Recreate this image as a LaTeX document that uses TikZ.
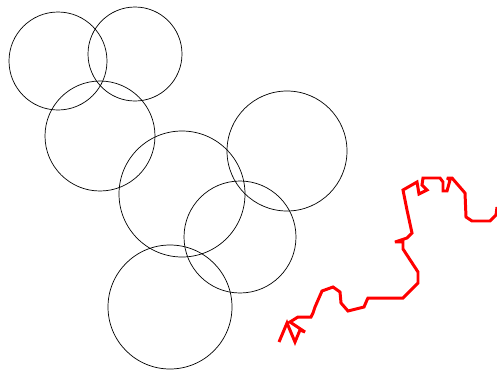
\documentclass[tikz,border=0pt]{standalone}
\usepackage{tikz}

\begin{document}
\begin{tikzpicture}[x=0.02cm,y=0.02cm]
        \useasboundingbox (0,0) rectangle (497,370);
        \coordinate (c1) at (58,309);
        \coordinate (c2) at (135,316);
        \coordinate (c3) at (100,234);
        \coordinate (c4) at (182,176);
        \coordinate (c5) at (287,219);
        \coordinate (c6) at (240,133);
        \coordinate (c7) at (170,63);
        \draw[thin] (c1) circle (49);
        \draw[thin] (c2) circle (47);
        \draw[thin] (c3) circle (55);
        \draw[thin] (c4) circle (63);
        \draw[thin] (c5) circle (60);
        \draw[thin] (c6) circle (56);
        \draw[thin] (c7) circle (62);
        \draw[red,line width=1.7pt,miter limit=3] (279,28) -- (287,47) -- (295,28) -- (300,40)
            -- (305,38) -- (290,48) -- (298,53) -- (311,53) -- (313,57) -- (315,63)
            -- (322,79) -- (333,83) -- (340,78) -- (341,67) -- (348,59) -- (364,63)
            -- (367,70) -- (368,72) -- (403,72) -- (418,87) -- (418,98) -- (403,121)
            -- (403,128) -- (395,128) -- (407,132) -- (412,137) -- (407,160)
            -- (403,180) -- (417,188) -- (419,176) -- (427,180) -- (422,185)
            -- (423,192) -- (440,192) -- (443,188) -- (443,179) -- (447,179)
            -- (450,190) -- (447,192) -- (452,192) -- (465,177) -- (466,153)
            -- (472,149) -- (490,149) -- (496,155) -- (497,163);
\end{tikzpicture}
\end{document}
